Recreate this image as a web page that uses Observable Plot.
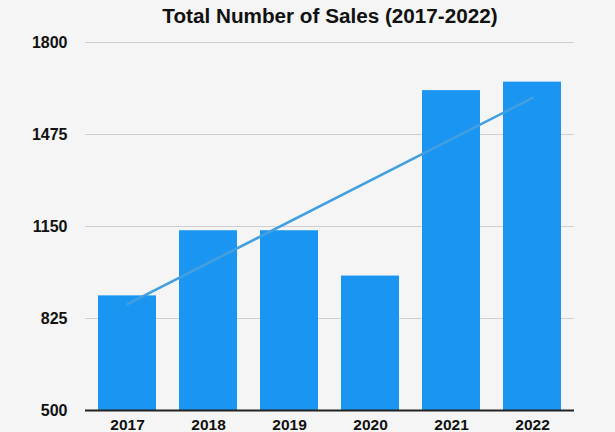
<!DOCTYPE html>
<html>
<head>
<meta charset="utf-8">
<script src="https://cdn.jsdelivr.net/npm/d3@7"></script>
<script src="https://cdn.jsdelivr.net/npm/@observablehq/plot@0.6"></script>
<style>
  html, body { margin: 0; padding: 0; background: #f5f5f5; }
  #chart svg { display: block; }
</style>
</head>
<body>
<div id="chart"></div>
<script>
const title = "Total Number of Sales (2017-2022)";
const years = ["2017", "2018", "2019", "2020", "2021", "2022"];
const sales = [905, 1135, 1135, 975, 1630, 1660];
const yTicks = [500, 825, 1150, 1475, 1800];

const data = years.map((year, i) => ({year, sales: sales[i]}));

// Linear trend (least squares) over the year index
const n = sales.length;
const xs = d3.range(n);
const mx = d3.mean(xs), my = d3.mean(sales);
const slope = d3.sum(xs, (x, i) => (x - mx) * (sales[i] - my)) / d3.sum(xs, x => (x - mx) ** 2);
const trend = [
  {year: years[0], value: my + slope * (0 - mx)},
  {year: years[n - 1], value: my + slope * (n - 1 - mx)}
];

const font = "'Liberation Sans', Arial, Helvetica, sans-serif";

const chart = Plot.plot({
  width: 615,
  height: 432,
  marginTop: 42,
  marginLeft: 85,
  marginRight: 41,
  marginBottom: 22,
  style: {background: "#f5f5f5", fontFamily: font},
  x: {domain: years, paddingInner: 0.29, paddingOuter: 0.145, label: null},
  y: {domain: [500, 1800], label: null},
  marks: [
    Plot.gridY(yTicks, {stroke: "#cfcfcf", strokeOpacity: 1, strokeWidth: 1}),
    Plot.barY(data, {x: "year", y1: 500, y2: "sales", fill: "#1a96f2"}),
    Plot.line(trend, {x: "year", y: "value", stroke: "#42a0e0", strokeWidth: 2.6}),
    Plot.ruleY([500], {stroke: "#222", strokeWidth: 2}),
    Plot.axisY(yTicks, {tickSize: 0, tickPadding: 18, fontSize: 16, fontWeight: "bold", fill: "#111", label: null, tickFormat: d => String(d)}),
    Plot.axisX({tickSize: 0, tickPadding: 8, fontSize: 15.5, fontWeight: "bold", fill: "#111", label: null}),
    Plot.text([title], {frameAnchor: "top", lineAnchor: "bottom", dy: -20, fontSize: 20.7, fontWeight: "bold", fill: "#111"})
  ]
});
document.getElementById("chart").appendChild(chart);
</script>
</body>
</html>
